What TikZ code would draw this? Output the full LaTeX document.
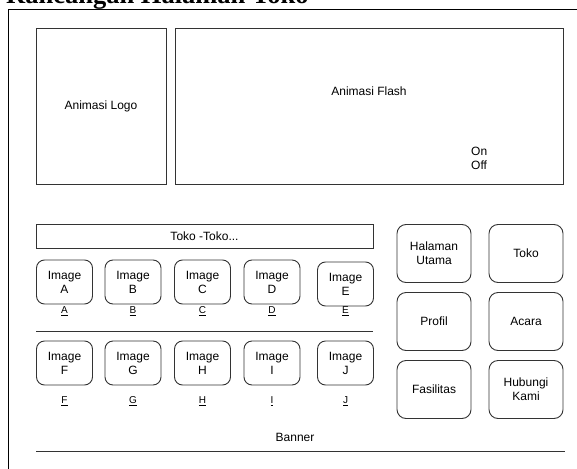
\documentclass[tikz,border=0pt]{standalone}
\usepackage{fontspec}
\setmainfont{Liberation Sans}
\newfontfamily\titlefont{Liberation Serif}
\begin{document}
\begin{tikzpicture}[x=1pt,y=-1pt,
  box/.style={draw=black!80,line width=0.9pt,inner sep=0pt,align=center,font=\fontsize{12}{14}\selectfont},
  imgbox/.style={box,rounded corners=8pt,minimum width=56pt,minimum height=44pt},
  menubox/.style={box,rounded corners=9pt,minimum width=74pt,minimum height=58pt},
  lbl/.style={font=\fontsize{10}{11}\selectfont,inner sep=0pt}]
\useasboundingbox (0,0) rectangle (577,468);
\clip (0,0) rectangle (577,468);

% Title and frame
\node[anchor=base west,inner sep=0pt,font=\titlefont\bfseries\fontsize{26.5}{28}\selectfont] (title) at (6,4) {Rancangan Halaman Toko};
\draw[line width=0.9pt] (8,470) -- (8,9) -- (580,9);

% Header
\node[box,minimum width=130pt,minimum height=156pt] (logo) at (101,106) {Animasi Logo};
\node[box,minimum width=388pt,minimum height=156pt] (flash) at (369,106) {};
\node[font=\fontsize{12}{14}\selectfont] (flashtxt) at (369,91) {Animasi Flash};
\node[anchor=west,align=left,inner sep=0pt,font=\fontsize{12}{14}\selectfont] (onoff) at (471,158) {On\\Off};

% Toko
\node[box,minimum width=337pt,minimum height=24pt] (toko) at (204.5,236) {Toko -Toko...};
\foreach \n/\x in {A/64.5,B/133,C/202.5,D/272}{
  \node[imgbox] (img\n) at (\x,282) {Image\\\n};
  \node[lbl] (lbl\n) at (\x,311) {\underline{\n}};
}
\node[imgbox] (imgE) at (345.5,284) {Image\\E};
\node[lbl] (lblE) at (345.5,311) {\underline{E}};
\draw[black!80,line width=0.9pt] (36,331) -- (373,331);
\foreach \n/\x in {F/64.5,G/133,H/202.5,I/272,J/345.5}{
  \node[imgbox] (img\n) at (\x,363) {Image\\\n};
  \node[lbl] (lbl\n) at (\x,401) {\underline{\n}};
}

% Menu
\node[menubox] (utama) at (434,253.5) {Halaman\\Utama};
\node[menubox] (tokomenu) at (526,253.5) {Toko};
\node[menubox] (profil) at (434,321.5) {Profil};
\node[menubox] (acara) at (526,321.5) {Acara};
\node[menubox] (fasilitas) at (434,389.5) {Fasilitas};
\node[menubox] (kontak) at (526,389.5) {Hubungi\\Kami};

% Banner
\node[font=\fontsize{12}{14}\selectfont] (banner) at (295,437) {Banner};
\draw[black!80,line width=0.9pt] (36,451) -- (565,451);
\end{tikzpicture}
\end{document}
